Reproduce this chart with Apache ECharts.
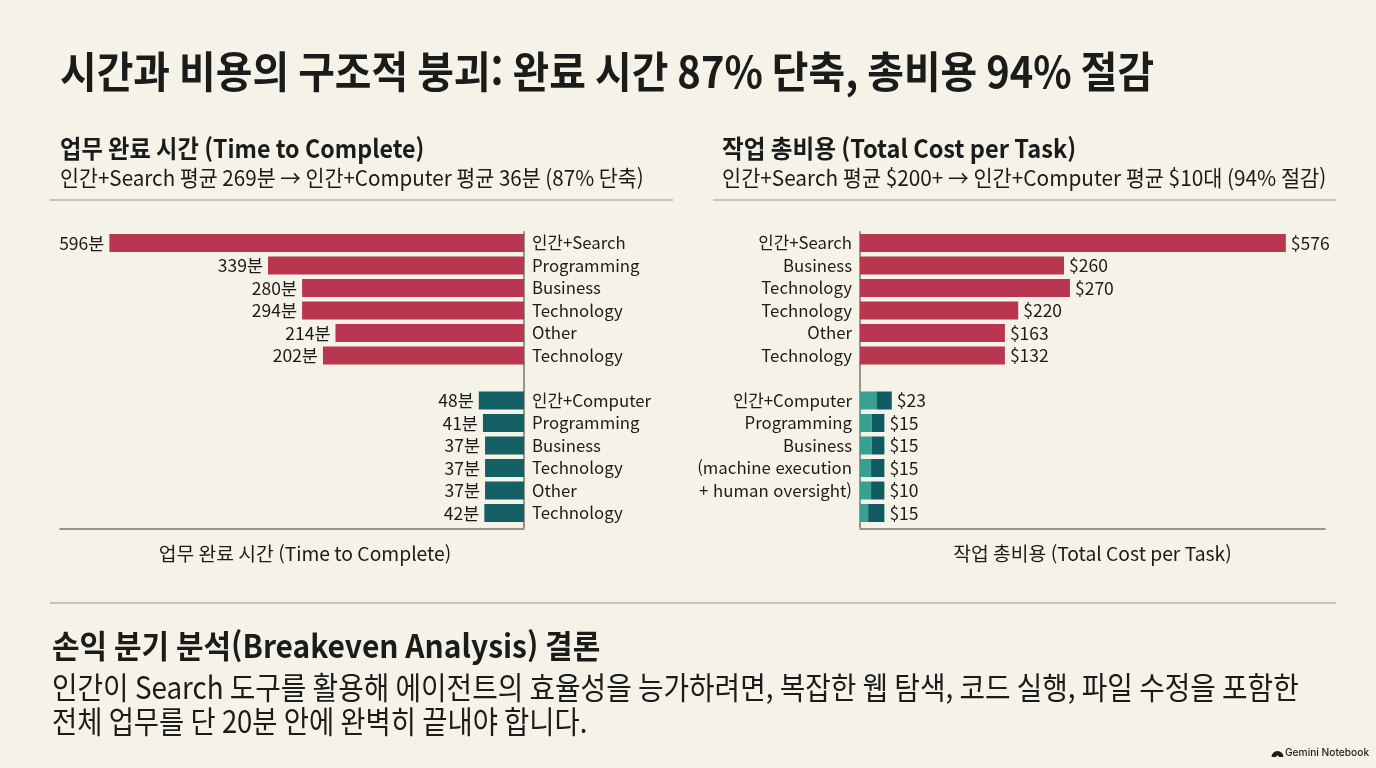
<!DOCTYPE html>
<html lang="ko"><head><meta charset="utf-8">
<style>html,body{margin:0;padding:0;background:#f5f2e7}#c{width:1376px;height:768px}</style>
<script src="https://cdn.jsdelivr.net/npm/echarts@6/dist/echarts.min.js"></script>
</head><body><div id="c"></div>
<script>
// Rows: 6 Search rows, a blank spacer row, 6 Computer rows.
const timeCategories = ['인간+Search','Programming','Business','Technology','Other','Technology','','인간+Computer','Programming','Business','Technology','Other','Technology'];
const costCategories = ['인간+Search','Business','Technology','Technology','Other','Technology','','인간+Computer','Programming','Business','(machine execution','+ human oversight)',''];
const timeLabels = ['596분','339분','280분','294분','214분','202분','','48분','41분','37분','37분','37분','42분'];
const timeSearchBars = [596,368,319,319,271,289,null,null,null,null,null,null,null];
const timeComputerBars = [null,null,null,null,null,null,null,65,59,56,56,56,57];
const costLabels = ['$576','$260','$270','$220','$163','$132','','$23','$15','$15','$15','$10','$15'];
const costSearchBars = [576,276,284,214,196,196,null,null,null,null,null,null,null];
const costComputerLight = [null,null,null,null,null,null,null,23,16,16,15,15,11];
const costComputerDark = [null,null,null,null,null,null,null,20,17,17,18,18,22];
const headline = '시간과 비용의 구조적 붕괴: 완료 시간 87% 단축, 총비용 94% 절감';
const leftTitle = '업무 완료 시간 (Time to Complete)';
const leftSub = '인간+Search 평균 269분 → 인간+Computer 평균 36분 (87% 단축)';
const rightTitle = '작업 총비용 (Total Cost per Task)';
const rightSub = '인간+Search 평균 $200+ → 인간+Computer 평균 $10대 (94% 절감)';
const conclusionTitle = '손익 분기 분석(Breakeven Analysis) 결론';
const conclusionLines = ['인간이 Search 도구를 활용해 에이전트의 효율성을 능가하려면, 복잡한 웹 탐색, 코드 실행, 파일 수정을 포함한','전체 업무를 단 20분 안에 완벽히 끝내야 합니다.'];
const leftAxisName = '업무 완료 시간 (Time to Complete)';
const rightAxisName = '작업 총비용 (Total Cost per Task)';

const FONT = '"Noto Sans CJK KR","Noto Sans",sans-serif';
const INK = '#1b1b1b', RULE = '#b5b3ab', AXIS = '#77776f';
const RED = '#b9364f', TEAL = '#146064', LIGHT = '#37a08e', DARK = '#125a62';
const txt = (x, y, text, size, weight, sx, family) => ({type:'text', x, y, scaleX:sx||1, silent:true,
  style:{text, fill:INK, font:`${weight||400} ${size}px ${family||FONT}`, verticalAlign:'middle', align:'left'}});
const hline = (x1, x2, y, color, w) => ({type:'line', silent:true, shape:{x1, y1:y, x2, y2:y}, style:{stroke:color||RULE, lineWidth:w||1.5}});
const vline = (x, y1, y2) => ({type:'line', silent:true, shape:{x1:x, y1, x2:x, y2}, style:{stroke:AXIS, lineWidth:1.5}});
const lab = (labels, pos) => ({show:true, position:pos, distance:5, color:INK, fontFamily:FONT, fontSize:17.5,
  formatter:p => labels[p.dataIndex]});
const bar = (xi, data, color, label) => ({type:'bar', xAxisIndex:xi, yAxisIndex:xi, stack:'s'+xi, barWidth:18,
  data, itemStyle:{color}, label:label||{show:false}, silent:true, animation:false});

const chart = echarts.init(document.getElementById('c'), null, {renderer:'canvas'});
const catAxis = (i, cats, pos) => ({gridIndex:i, type:'category', data:cats, inverse:true, position:pos,
  axisLine:{show:true, onZero:false, lineStyle:{color:AXIS, width:1.5}}, axisTick:{show:false},
  axisLabel:{color:INK, fontFamily:FONT, fontSize:16.8, margin:8, interval:0}});
const valAxis = (i, max, inv, name, pad) => ({gridIndex:i, type:'value', min:0, max, inverse:inv, show:true, offset:4,
  splitLine:{show:false}, axisTick:{show:false}, axisLabel:{show:false},
  axisLine:{show:true, onZero:false, lineStyle:{color:AXIS, width:1.5}},
  name, nameLocation:'middle', nameGap:16, nameTextStyle:{color:INK, fontFamily:FONT, fontSize:19.3, padding:pad}});

chart.setOption({
  backgroundColor:'#f5f2e7', animation:false,
  grid:[{left:60, width:464, top:231.75, height:292.5},{left:860, width:465, top:231.75, height:292.5}],
  xAxis:[valAxis(0,667,true,leftAxisName,[0,0,0,26]), valAxis(1,629,false,rightAxisName,[0,0,0,0])],
  yAxis:[catAxis(0,timeCategories,'right'), catAxis(1,costCategories,'left')],
  series:[
    bar(0,timeSearchBars,RED,lab(timeLabels,'left')),
    bar(0,timeComputerBars,TEAL,lab(timeLabels,'left')),
    bar(1,costSearchBars,RED,lab(costLabels,'right')),
    bar(1,costComputerLight,LIGHT),
    bar(1,costComputerDark,DARK,lab(costLabels,'right'))
  ],
  graphic:[
    txt(60,72,headline,43,700,0.927),
    txt(60,148,leftTitle,25,700,0.93), txt(60,178,leftSub,22,400,0.937),
    txt(722,148,rightTitle,25,700,0.944), txt(722,178,rightSub,22,400,0.945),
    hline(50,673,200), hline(713,1336,200), hline(50,1336,603),
    vline(524,524,528), vline(860,524,528),
    txt(52,646,conclusionTitle,32,700,0.937),
    txt(52,687,conclusionLines[0],31,400,0.896), txt(52,721,conclusionLines[1],31,400,0.885),
    {type:'sector', silent:true, shape:{cx:1277.5, cy:757, r:6, r0:1.5, startAngle:Math.PI, endAngle:2*Math.PI}, style:{fill:'#1b1b1b'}},
    txt(1285,753,'Gemini Notebook',10.5,500,0.97,'Inter,Roboto,sans-serif')
  ]
});
</script></body></html>
